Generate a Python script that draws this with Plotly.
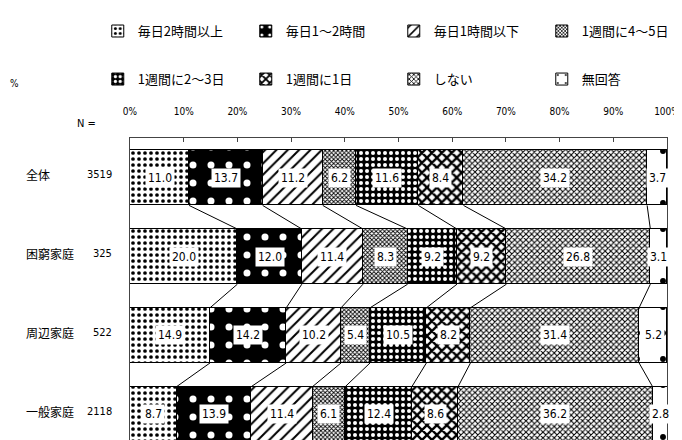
import plotly.graph_objects as go

categories = ["全体", "困窮家庭", "周辺家庭", "一般家庭"]
n_values = ["3519", "325", "522", "2118"]
series_names = ["毎日2時間以上", "毎日1～2時間", "毎日1時間以下", "1週間に4～5日",
                "1週間に2～3日", "1週間に1日", "しない", "無回答"]
values = [
    [11.0, 13.7, 11.2, 6.2, 11.6, 8.4, 34.2, 3.7],
    [20.0, 12.0, 11.4, 8.3, 9.2, 9.2, 26.8, 3.1],
    [14.9, 14.2, 10.2, 5.4, 10.5, 8.2, 31.4, 5.2],
    [8.7, 13.9, 11.4, 6.1, 12.4, 8.6, 36.2, 2.8],
]
tick_vals = [0, 10, 20, 30, 40, 50, 60, 70, 80, 90, 100]
tick_text = ["0%", "10%", "20%", "30%", "40%", "50%", "60%", "70%", "80%", "90%", "100%"]

patterns = [
    dict(shape=".", fgcolor="black", bgcolor="white", size=6, solidity=0.3),
    dict(shape=".", fgcolor="white", bgcolor="black", size=18, solidity=0.12),
    dict(shape="/", fgcolor="black", bgcolor="white", size=8, solidity=0.25),
    dict(shape="x", fgcolor="black", bgcolor="white", size=3, solidity=0.5),
    dict(shape=".", fgcolor="white", bgcolor="black", size=6, solidity=0.35),
    dict(shape="x", fgcolor="black", bgcolor="white", size=7, solidity=0.55),
    dict(shape="x", fgcolor="black", bgcolor="white", size=4, solidity=0.45),
    dict(shape=".", fgcolor="black", bgcolor="white", size=26, solidity=0.04),
]

NUMFONT = "Liberation Sans Narrow, DejaVu Sans Condensed, Noto Sans CJK JP, sans-serif"
JPFONT = "Noto Sans CJK JP, sans-serif"
BAR_W = 0.7

fig = go.Figure()
ypos = list(range(len(categories)))

for s, name in enumerate(series_names):
    fig.add_trace(go.Bar(
        y=ypos, x=[row[s] for row in values], orientation="h", name=name,
        width=BAR_W,
        marker=dict(color="white", line=dict(color="black", width=1),
                    pattern=dict(fillmode="replace", **patterns[s])),
        legend="legend" if s < 4 else "legend2",
        hoverinfo="skip",
    ))

# series connector lines
cums = []
for row in values:
    c, acc = [], 0.0
    for v in row:
        acc += v
        c.append(acc)
    cums.append(c)
for b in range(len(series_names) - 1):
    xs, ys = [], []
    for i in range(len(categories) - 1):
        xs += [cums[i][b], cums[i + 1][b], None]
        ys += [i + BAR_W / 2, i + 1 - BAR_W / 2, None]
    fig.add_trace(go.Scatter(x=xs, y=ys, mode="lines", line=dict(color="black", width=1),
                             showlegend=False, hoverinfo="skip"))

annotations = []
for i, row in enumerate(values):
    start = 0.0
    for v in row:
        annotations.append(dict(x=start + v / 2, y=i, xref="x", yref="y", text=f"{v:.1f}",
                                showarrow=False, bgcolor="white", borderpad=2,
                                font=dict(family=NUMFONT, size=12, color="black")))
        start += v
    annotations.append(dict(x=-0.197, y=i, xref="paper", yref="y", text=categories[i],
                            xanchor="left", showarrow=False, yshift=3,
                            font=dict(family=JPFONT, size=12, color="black")))
    annotations.append(dict(x=-0.03, y=i, xref="paper", yref="y", text=n_values[i],
                            xanchor="right", showarrow=False, yshift=3,
                            font=dict(family=NUMFONT, size=11, color="black")))
annotations.append(dict(x=-0.06, y=1.075, xref="paper", yref="paper", text="N =",
                        xanchor="right", showarrow=False,
                        font=dict(family=NUMFONT, size=11, color="black")))
annotations.append(dict(x=-0.227, y=1.2, xref="paper", yref="paper", text="%",
                        xanchor="left", showarrow=False, xshift=0,
                        font=dict(family=NUMFONT, size=10, color="black")))

legend_common = dict(orientation="h", xanchor="left", yanchor="middle", entrywidth=103,
                     entrywidthmode="pixels", bgcolor="rgba(0,0,0,0)", traceorder="normal",
                     font=dict(family=JPFONT, size=13, color="black"),
                     itemclick=False, itemdoubleclick=False)

fig.update_layout(
    width=682, height=440,
    margin=dict(l=122, r=23, t=130, b=0, autoexpand=False),
    plot_bgcolor="white", paper_bgcolor="white",
    barmode="stack", bargap=0,
    showlegend=True,
    legend=dict(x=-0.06, y=1.345, **legend_common),
    legend2=dict(x=-0.06, y=1.19, **legend_common),
    annotations=annotations,
    xaxis=dict(side="top", range=[0, 100], tickvals=tick_vals, ticktext=tick_text,
               ticks="inside", ticklen=4, tickcolor="#444", showgrid=False, zeroline=False,
               showline=True, linecolor="#444", linewidth=1, ticklabelstandoff=18,
               tickfont=dict(family=NUMFONT, size=10, color="black")),
    yaxis=dict(range=[3.43, -0.506], showticklabels=False, ticks="", showgrid=False,
               zeroline=False, showline=True, linecolor="#444", linewidth=1, mirror=True),
)

fig.write_html("out.html")
